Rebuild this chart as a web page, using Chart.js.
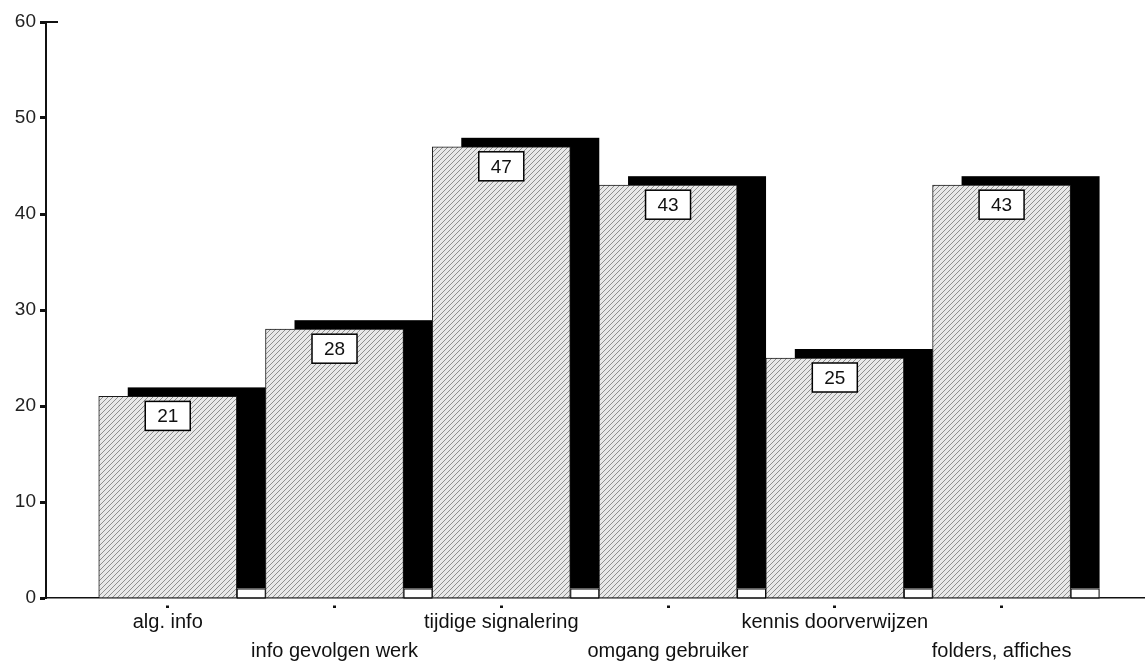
<!DOCTYPE html>
<html>
<head>
<meta charset="utf-8">
<script src="https://cdn.jsdelivr.net/npm/chart.js@4.4.0/dist/chart.umd.min.js"></script>
<style>
	body { margin: 0; background: #ffffff; }
	canvas { display: block; }
</style>
</head>
<body>
<canvas id="myChart" width="1145" height="668"></canvas>
<script>
const categories = [
	"alg. info",
	"info gevolgen werk",
	"tijdige signalering",
	"omgang gebruiker",
	"kennis doorverwijzen",
	"folders, affiches",
];
const values = [21, 28, 47, 43, 25, 43];
const yMin = 0;
const yMax = 60;
const yStep = 10;

// light grey hatching like the scanned bars
function makeHatch() {
	var c = document.createElement("canvas");
	c.width = 5;
	c.height = 5;
	var g = c.getContext("2d");
	g.fillStyle = "#e8e8e8";
	g.fillRect(0, 0, 5, 5);
	g.strokeStyle = "#8f8f8f";
	g.lineWidth = 1;
	g.beginPath();
	g.moveTo(-1, 6);
	g.lineTo(6, -1);
	g.moveTo(-1, 1);
	g.lineTo(1, -1);
	g.moveTo(4, 6);
	g.lineTo(6, 4);
	g.stroke();
	return g.createPattern(c, "repeat");
}

const shadowX = 29;
const shadowY = 9;

const shadowPlugin = {
	id: "shadow",
	beforeDatasetsDraw(chart) {
		const ctx = chart.ctx;
		const meta = chart.getDatasetMeta(0);
		ctx.save();
		meta.data.forEach(function (bar) {
			var left = bar.x - bar.width / 2;
			var right = bar.x + bar.width / 2;
			ctx.fillStyle = "#000000";
			ctx.fillRect(left + shadowX, bar.y - shadowY, bar.width, bar.base - bar.y);
			ctx.fillStyle = "#ffffff";
			ctx.fillRect(right, bar.base - shadowY, shadowX, shadowY);
			ctx.strokeStyle = "#000000";
			ctx.lineWidth = 1;
			ctx.strokeRect(right + 0.5, bar.base - shadowY + 0.5, shadowX - 1, shadowY);
		});
		ctx.restore();
	},
	afterDatasetsDraw(chart) {
		const ctx = chart.ctx;
		const meta = chart.getDatasetMeta(0);
		ctx.save();
		ctx.font = "19px 'Liberation Sans', Arial, sans-serif";
		ctx.textAlign = "center";
		ctx.textBaseline = "middle";
		meta.data.forEach(function (bar, i) {
			var w = 45;
			var h = 29;
			var top = bar.y + 5;
			ctx.fillStyle = "#ffffff";
			ctx.fillRect(bar.x - w / 2, top, w, h);
			ctx.strokeStyle = "#000000";
			ctx.lineWidth = 1.5;
			ctx.strokeRect(bar.x - w / 2, top, w, h);
			ctx.fillStyle = "#111111";
			ctx.fillText(String(values[i]), bar.x, top + h / 2 + 1);
		});
		// little stub at the top of the y axis
		var yTop = chart.scales.y.getPixelForValue(yMax);
		var xAxis = chart.chartArea.left;
		ctx.strokeStyle = "#111111";
		ctx.lineWidth = 2;
		ctx.beginPath();
		ctx.moveTo(xAxis, yTop);
		ctx.lineTo(xAxis + 12, yTop);
		ctx.stroke();
		ctx.restore();
	},
};

const data = {
	datasets: [
		{
			data: values.map(function (v, i) {
				return { x: i, y: v };
			}),
			backgroundColor: makeHatch(),
			borderColor: "#1a1a1a",
			borderWidth: 1,
			borderSkipped: "bottom",
			barThickness: 138,
		},
	],
};

const config = {
	type: "bar",
	data: data,
	plugins: [shadowPlugin],
	options: {
		responsive: false,
		animation: false,
		layout: { padding: { top: 22, right: 0, left: 0, bottom: 0 } },
		plugins: {
			legend: { display: false },
			tooltip: { enabled: false },
		},
		scales: {
			x: {
				type: "linear",
				min: -0.73,
				max: 5.86,
				offset: false,
				afterFit: function (scale) {
					scale.height = 70;
				},
				border: { color: "#111111", width: 1.5 },
				grid: {
					offset: false,
					drawOnChartArea: false,
					drawTicks: true,
					tickLength: 10,
					tickWidth: 3,
					tickColor: "#111111",
					tickBorderDash: [0, 7, 3, 10],
				},
				ticks: {
					stepSize: 1,
					includeBounds: false,
					autoSkip: false,
					maxRotation: 0,
					padding: 0,
					color: "#111111",
					font: { family: "'Liberation Sans', Arial, sans-serif", size: 20, lineHeight: 1.45 },
					callback: function (value) {
						if (!Number.isInteger(value) || !categories[value]) return "";
						return value % 2 ? ["", categories[value]] : categories[value];
					},
				},
			},
			y: {
				min: yMin,
				max: yMax,
				afterFit: function (scale) {
					scale.width = 46;
				},
				border: { color: "#111111", width: 2 },
				grid: {
					drawOnChartArea: false,
					drawTicks: true,
					tickLength: 6,
					tickWidth: 3,
					tickColor: "#111111",
				},
				ticks: {
					stepSize: yStep,
					padding: 4,
					color: "#222222",
					font: { family: "'Liberation Sans', Arial, sans-serif", size: 19 },
				},
			},
		},
	},
};

const myChart = new Chart(document.getElementById("myChart"), config);
</script>
</body>
</html>
